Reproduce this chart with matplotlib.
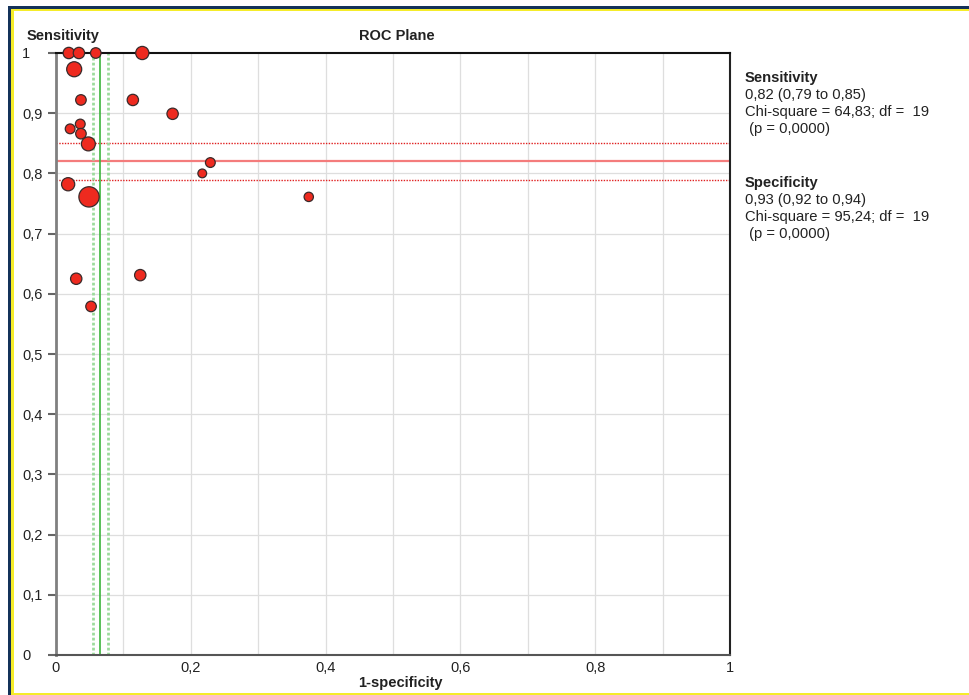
import matplotlib
matplotlib.use("Agg")
import matplotlib.pyplot as plt
from matplotlib.patches import Rectangle
import numpy as np

# ---- data ----
fpr = [0.019, 0.034, 0.059, 0.128, 0.027, 0.037, 0.114, 0.173, 0.021, 0.036,
       0.037, 0.048, 0.229, 0.217, 0.018, 0.049, 0.375, 0.030, 0.125, 0.052]
sens = [1.000, 1.000, 1.000, 1.000, 0.973, 0.922, 0.922, 0.899, 0.874, 0.882,
        0.866, 0.849, 0.818, 0.800, 0.782, 0.761, 0.761, 0.625, 0.631, 0.579]
weights = [74, 74, 64, 100, 130, 64, 74, 74, 55, 55,
           64, 112, 55, 44, 100, 237, 50, 74, 74, 64]

sens_pooled, sens_lo, sens_hi = 0.821, 0.789, 0.850
spec_pooled, spec_lo, spec_hi = 0.934, 0.923, 0.945

xticks = [0, 0.2, 0.4, 0.6, 0.8, 1]
xtick_labels = ["0", "0,2", "0,4", "0,6", "0,8", "1"]
yticks = [0, 0.1, 0.2, 0.3, 0.4, 0.5, 0.6, 0.7, 0.8, 0.9, 1]
ytick_labels = ["0", "0,1", "0,2", "0,3", "0,4", "0,5", "0,6", "0,7", "0,8", "0,9", "1"]

sens_text = ["Sensitivity", "0,82 (0,79 to 0,85)", "Chi-square = 64,83; df =  19", " (p = 0,0000)"]
spec_text = ["Specificity", "0,93 (0,92 to 0,94)", "Chi-square = 95,24; df =  19", " (p = 0,0000)"]

plt.rcParams['font.family'] = ['Liberation Sans', 'DejaVu Sans']

W, H = 970, 695
fig = plt.figure(figsize=(W / 100, H / 100), dpi=100)
fig.patch.set_facecolor("white")

def fx(px):
    return px / W

def fy(py):
    return 1 - py / H

ax = fig.add_axes([fx(56), fy(655), fx(730) - fx(56), fy(53) - fy(655)])
ax.set_xlim(0, 1)
ax.set_ylim(0, 1)

# grid
for v in np.arange(1, 10) / 10:
    ax.axvline(v, color="#dedede", lw=0.9, zorder=0)
    ax.axhline(v, color="#dedede", lw=0.9, zorder=0)

# pooled lines
ax.axhline(sens_pooled, color="#f47c7c", lw=1.6, zorder=2)
ax.axhline(sens_lo, color="#e02020", lw=1, ls=(0, (1, 1)), zorder=2)
ax.axhline(sens_hi, color="#e02020", lw=1, ls=(0, (1, 1)), zorder=2)
ax.axvline(1 - spec_pooled, color="#3cb43c", lw=1.2, zorder=2)
ax.axvline(1 - spec_lo, color="#9ddc9d", lw=2, ls=(0, (1, 0.8)), zorder=2)
ax.axvline(1 - spec_hi, color="#9ddc9d", lw=2, ls=(0, (1, 0.8)), zorder=2)

# points (marker area proportional to study weight)
sizes = [w * 0.9 for w in weights]
ax.scatter(fpr, sens, s=sizes, facecolor="#ee2a1f", edgecolor="#3a2a2a",
           linewidths=0.9, zorder=5, clip_on=False)

# spines
ax.spines["left"].set_color("#808080")
ax.spines["left"].set_linewidth(2)
ax.spines["bottom"].set_color("#555555")
ax.spines["bottom"].set_linewidth(1.5)
ax.spines["top"].set_color("#111111")
ax.spines["top"].set_linewidth(1.5)
ax.spines["right"].set_color("#222222")
ax.spines["right"].set_linewidth(1.5)

ax.set_xticks(xticks)
ax.set_xticklabels(xtick_labels, fontsize=10.5, color="#222222")
ax.tick_params(axis="x", length=0, pad=4)
ax.set_yticks(yticks)
ax.set_yticklabels(ytick_labels, fontsize=10.5, color="#222222", ha="left")
ax.tick_params(axis="y", length=5.8, width=1.5, color="#666666", pad=18.7)

# titles
fig.text(fx(27), fy(36), "Sensitivity", fontsize=10.5, fontweight="bold",
         ha="left", va="center", color="#222222")
fig.text(fx(397), fy(36), "ROC Plane", fontsize=10.5, fontweight="bold",
         ha="center", va="center", color="#222222")
fig.text(fx(400), fy(683), "1-specificity", fontsize=10.5, fontweight="bold",
         ha="center", va="center", color="#222222")

# right side stats
for i, line in enumerate(sens_text):
    fig.text(fx(745), fy(78 + 17 * i), line, fontsize=10.6,
             fontweight="bold" if i == 0 else "normal",
             ha="left", va="center", color="#222222")
for i, line in enumerate(spec_text):
    fig.text(fx(745), fy(183 + 17 * i), line, fontsize=10.6,
             fontweight="bold" if i == 0 else "normal",
             ha="left", va="center", color="#222222")

# border
navy = "#14325a"
yellow = "#f5ec2a"
def rect(x0, y0, x1, y1, c):
    fig.patches.append(Rectangle((fx(x0), fy(y1)), fx(x1) - fx(x0), fy(y0) - fy(y1),
                                 transform=fig.transFigure, color=c, lw=0, zorder=10))
rect(8, 6, 11, 695, navy)
rect(8, 6, 970, 9, navy)
rect(11, 9, 13.5, 695, yellow)
rect(11, 9, 970, 11, yellow)
rect(11, 692.5, 970, 695, yellow)

fig.savefig("out.png", dpi=100, facecolor="white")
